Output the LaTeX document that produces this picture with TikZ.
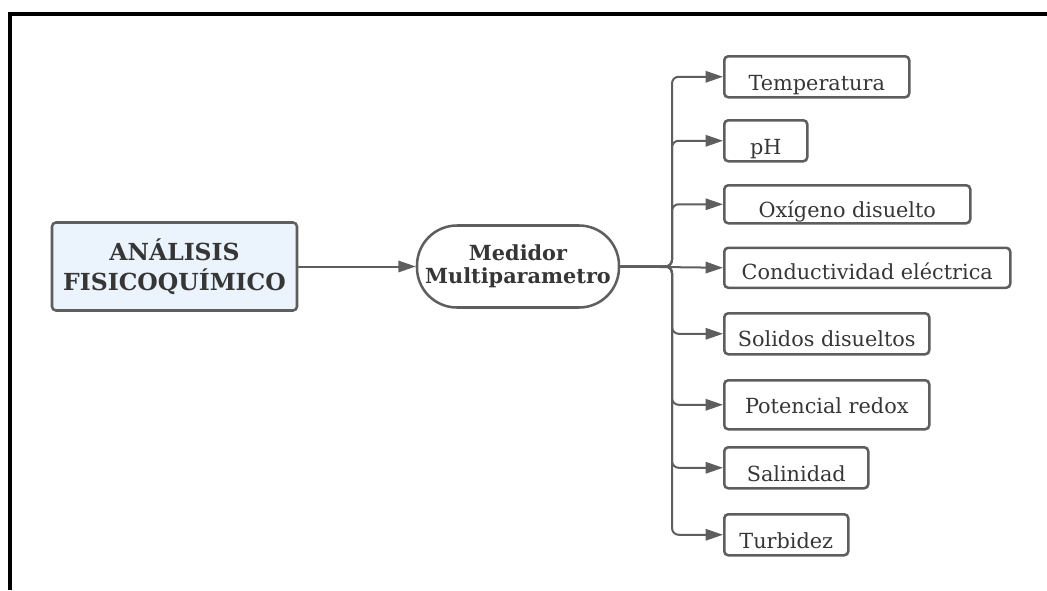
\documentclass[tikz,border=0pt]{standalone}
\usepackage{fontspec}
\setmainfont{DejaVu Serif}
\usetikzlibrary{arrows.meta}
\definecolor{edge}{HTML}{5E5E5E}
\definecolor{ink}{HTML}{363636}
\definecolor{rootfill}{HTML}{EBF3FD}

\begin{document}
\begin{tikzpicture}[x=0.75pt,y=-0.75pt,
  root/.style={draw=edge, line width=1.9pt, fill=rootfill, rounded corners=3pt,
    minimum width=183.75pt, minimum height=66pt, inner sep=0pt, align=center,
    text=ink, font=\bfseries\fontsize{17.6}{22.5}\selectfont},
  hub/.style={draw=edge, line width=1.9pt, fill=white, rounded corners=30pt,
    minimum width=151.5pt, minimum height=61.5pt, inner sep=0pt, align=center,
    text=ink, font=\bfseries\fontsize{15.6}{17.5}\selectfont},
  leaf/.style={draw=edge, line width=1.9pt, rounded corners=3pt, anchor=north west,
    inner xsep=0pt, inner ysep=0pt, text height=25.5pt, text depth=5.25pt,
    text=ink, font=\fontsize{15.6}{18}\selectfont},
  tip/.style={-{Triangle[length=13pt,width=8.5pt]}},
  conn/.style={draw=edge, line width=1.5pt, tip},
  branch/.style={conn, rounded corners=5pt}
]
\useasboundingbox (0,0) rectangle (1047,590);

% frame
\draw[line width=3pt, black, line join=miter] (1047,13.5) -- (9.5,13.5) -- (9.5,590);

% main nodes
\node[root] (root) at (174.5,266.5) {ANÁLISIS\\FISICOQUÍMICO};
\node[hub] (hub) at (518,266.5) {Medidor\\Multiparametro};

% parameter boxes
\node[leaf, minimum width=138.75pt] (p1) at (723,55) {Temperatura};
\node[leaf, minimum width=62.25pt] (p2) at (723,119) {pH};
\node[leaf, minimum width=184.5pt, text height=24pt, text depth=4.5pt] (p3) at (723,184) {Oxígeno disuelto};
\node[leaf, minimum width=214.5pt, text height=24pt, text depth=6pt] (p4) at (723,246.5) {Conductividad eléctrica};
\node[leaf, minimum width=153.75pt, text height=24.75pt, text depth=6pt] (p5) at (723,312) {Solidos disueltos};
\node[leaf, minimum width=153.75pt, text height=24.75pt, text depth=12pt] (p6) at (723,379) {Potencial redox};
\node[leaf, minimum width=108pt] (p7) at (723,446) {Salinidad};
\node[leaf, minimum width=93pt] (p8) at (723,513) {Turbidez};

\coordinate (bus) at (672,266.5);

% connectors
\draw[conn] (root.east) -- (hub.west);
\foreach \p in {p1,p2,p3,p5,p6,p7,p8}
  \draw[branch] (hub.east) -- (bus) |- (\p.west);
\draw[conn] (hub.east) -- (p4.west);
\end{tikzpicture}
\end{document}
